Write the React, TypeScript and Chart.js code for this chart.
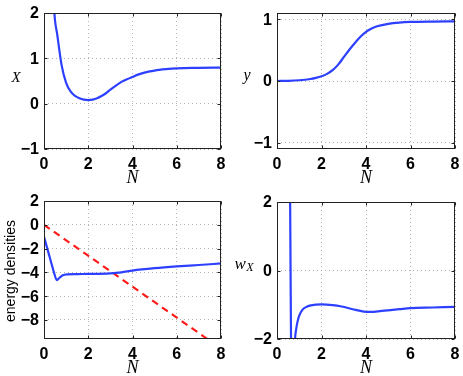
import React, { useEffect, useRef } from 'react';
import { Chart, registerables } from 'chart.js';

Chart.register(...registerables);

// ---------- data ----------
const N_TICKS = [0, 2, 4, 6, 8];

// Panel 1: X(N)
const N_X = [0.35, 0.47, 0.6, 0.8, 1.0, 1.2, 1.4, 1.6, 1.8, 2.0, 2.2, 2.4, 2.6, 2.8, 3.0, 3.25, 3.5, 3.75, 4.0, 4.25, 4.5, 5.0, 5.5, 6.0, 7.0, 8.0];
const X_VAL = [3.4, 2.0, 1.52, 0.84, 0.46, 0.27, 0.17, 0.12, 0.09, 0.08, 0.09, 0.12, 0.17, 0.23, 0.31, 0.4, 0.48, 0.54, 0.59, 0.64, 0.68, 0.73, 0.76, 0.78, 0.79, 0.795];
const X_TICKS = [-1, 0, 1, 2];

// Panel 2: y(N)
const N_Y = [0, 0.5, 1, 1.5, 1.75, 2, 2.25, 2.5, 2.75, 3, 3.25, 3.5, 3.75, 4, 4.25, 4.5, 5, 5.5, 6, 7, 8];
const Y_VAL = [0, 0.003, 0.012, 0.032, 0.05, 0.076, 0.115, 0.175, 0.265, 0.385, 0.505, 0.615, 0.715, 0.795, 0.848, 0.885, 0.925, 0.945, 0.955, 0.962, 0.965];
const Y_TICKS = [-1, 0, 1];

// Panel 3: energy densities
const N_E = [0, 0.15, 0.3, 0.45, 0.58, 0.7, 0.85, 1.04, 1.5, 2, 3, 3.5, 4, 5, 6, 7, 8];
const E_VAL = [-1.0, -2.0, -3.0, -4.0, -4.65, -4.45, -4.25, -4.17, -4.14, -4.13, -4.08, -4.0, -3.85, -3.65, -3.5, -3.38, -3.25];
const N_R = [0, 8];
const R_VAL = [0, -10.4];
const E_TICKS = [-8, -6, -4, -2, 0, 2];

// Panel 4: w_X(N)
const N_W = [0.5, 0.55, 0.59, 0.61, 0.63, 0.68, 0.74, 0.81, 0.86, 0.92, 1.0, 1.14, 1.3, 1.52, 2.0, 2.5, 2.9, 3.4, 3.9, 4.2, 4.7, 5.5, 6.0, 7.0, 8.0];
const W_VAL = [8, 4, 2, 0, -2, -3.5, -3.0, -2.0, -1.72, -1.5, -1.32, -1.15, -1.07, -1.02, -0.99, -1.01, -1.05, -1.13, -1.2, -1.21, -1.18, -1.13, -1.1, -1.08, -1.06];
const W_TICKS = [-2, 0, 2];

// ---------- styling ----------
const BLUE = '#2d40ff';
const RED = '#ff1a1a';
const TICK_CSS = 'bold 16px "Liberation Sans", Arial, sans-serif';
const SERIF = '"Liberation Serif", "Times New Roman", serif';

const pts = (xs: number[], ys: number[]) => xs.map((x, i) => ({ x, y: ys[i] }));
const fmt = (v: any) => String(v).replace('-', '\u2212');

type Spec = {
  left: number; top: number; width: number; height: number;
  padding: { left: number; right: number; top: number; bottom: number };
  yAxisWidth: number; xAxisHeight: number;
  yMin: number; yMax: number; yTicks: number[];
  datasets: any[];
  yLabel: (ctx: CanvasRenderingContext2D) => void;
};

const frameFor = (spec: Spec) => ({
  id: 'frame',
  afterDatasetsDraw(chart: any) {
    const ctx: CanvasRenderingContext2D = chart.ctx;
    const a = chart.chartArea;
    ctx.save();
    ctx.strokeStyle = '#222';
    ctx.lineWidth = 1;
    const l = Math.round(a.left) + 0.5, r = Math.round(a.right) - 0.5;
    const t = Math.round(a.top) + 0.5, b = Math.round(a.bottom) - 0.5;
    ctx.strokeRect(l, t, r - l, b - t);
    // inner tick marks
    const xs = chart.scales.x, ys = chart.scales.y;
    ctx.beginPath();
    N_TICKS.forEach((v) => {
      const px = Math.round(xs.getPixelForValue(v)) + 0.5;
      ctx.moveTo(px, b); ctx.lineTo(px, b - 3);
      ctx.moveTo(px, t); ctx.lineTo(px, t + 3);
    });
    spec.yTicks.forEach((v) => {
      const py = Math.round(ys.getPixelForValue(v)) + 0.5;
      ctx.moveTo(l, py); ctx.lineTo(l + 3, py);
      ctx.moveTo(r, py); ctx.lineTo(r - 3, py);
    });
    ctx.stroke();
    // tick labels
    ctx.fillStyle = '#000';
    ctx.font = TICK_CSS;
    ctx.textAlign = 'center';
    ctx.textBaseline = 'alphabetic';
    N_TICKS.forEach((v) => {
      ctx.fillText(fmt(v), xs.getPixelForValue(v), a.bottom + 20);
    });
    ctx.textAlign = 'right';
    ctx.textBaseline = 'middle';
    spec.yTicks.forEach((v) => {
      ctx.fillText(fmt(v), a.left - 5, ys.getPixelForValue(v) + 1);
    });
    // x title
    ctx.font = `italic 18px ${SERIF}`;
    ctx.textAlign = 'center';
    ctx.textBaseline = 'alphabetic';
    ctx.fillText('N', (a.left + a.right) / 2, a.bottom + 34);
    spec.yLabel(ctx);
    ctx.restore();
  },
});

function Panel({ spec }: { spec: Spec }) {
  const ref = useRef<HTMLCanvasElement>(null);
  useEffect(() => {
    const canvas = ref.current!;
    const chart = new Chart(canvas, {
      type: 'line',
      data: { datasets: spec.datasets },
      options: {
        animation: false,
        responsive: false,
        devicePixelRatio: 1,
        layout: { padding: spec.padding },
        plugins: { legend: { display: false }, tooltip: { enabled: false } },
        elements: { point: { radius: 0 } },
        scales: {
          x: {
            type: 'linear',
            min: 0,
            max: 8,
            afterBuildTicks: (axis: any) => { axis.ticks = N_TICKS.map((v) => ({ value: v })); },
            afterFit: (axis: any) => { axis.height = spec.xAxisHeight; },
            ticks: { display: false },
            grid: { color: '#b4b4b4', lineWidth: 1, drawTicks: false, borderDash: [1, 3] } as any,
            border: { display: false, dash: [1, 3] },
          },
          y: {
            type: 'linear',
            min: spec.yMin,
            max: spec.yMax,
            afterBuildTicks: (axis: any) => { axis.ticks = spec.yTicks.map((v) => ({ value: v })); },
            afterFit: (axis: any) => { axis.width = spec.yAxisWidth; },
            ticks: { display: false },
            grid: { color: '#b4b4b4', lineWidth: 1, drawTicks: false, borderDash: [1, 3] } as any,
            border: { display: false, dash: [1, 3] },
          },
        },
      },
      plugins: [frameFor(spec)],
    } as any);
    return () => chart.destroy();
  }, [spec]);
  return (
    <div style={{ position: 'absolute', left: spec.left, top: spec.top, width: spec.width, height: spec.height }}>
      <canvas ref={ref} width={spec.width} height={spec.height} style={{ display: 'block' }} />
    </div>
  );
}

const lineDs = (data: any[], color: string, dash?: number[]) => ({
  data,
  borderColor: color,
  backgroundColor: color,
  borderWidth: 2.2,
  borderDash: dash || [],
  pointRadius: 0,
  fill: false,
  cubicInterpolationMode: 'monotone',
});

const SPECS: Spec[] = [
  {
    left: 0, top: 0, width: 231, height: 188,
    padding: { left: 0, right: 10, top: 13, bottom: 0 },
    yAxisWidth: 44, xAxisHeight: 39,
    yMin: -1, yMax: 2, yTicks: X_TICKS,
    datasets: [lineDs(pts(N_X, X_VAL), BLUE)],
    yLabel: (ctx) => {
      ctx.font = `italic 15px ${SERIF}`;
      ctx.textAlign = 'center';
      ctx.fillText('X', 16, 81.5);
    },
  },
  {
    left: 231, top: 0, width: 232, height: 188,
    padding: { left: 0, right: 8, top: 13, bottom: 0 },
    yAxisWidth: 46, xAxisHeight: 39,
    yMin: -1.1, yMax: 1.1, yTicks: Y_TICKS,
    datasets: [lineDs(pts(N_Y, Y_VAL), BLUE)],
    yLabel: (ctx) => {
      ctx.font = `italic 16px ${SERIF}`;
      ctx.textAlign = 'center';
      ctx.fillText('y', 16, 79.5);
    },
  },
  {
    left: 0, top: 188, width: 231, height: 188,
    padding: { left: 0, right: 10, top: 13, bottom: 0 },
    yAxisWidth: 44, xAxisHeight: 37,
    yMin: -9.6, yMax: 2, yTicks: E_TICKS,
    datasets: [lineDs(pts(N_E, E_VAL), BLUE), lineDs(pts(N_R, R_VAL), RED, [7, 5])],
    yLabel: (ctx) => {
      ctx.save();
      ctx.translate(11, 83);
      ctx.rotate(-Math.PI / 2);
      ctx.font = '14px "Liberation Sans", Arial, sans-serif';
      ctx.textAlign = 'center';
      ctx.textBaseline = 'middle';
      ctx.fillText('energy densities', 0, 0);
      ctx.restore();
    },
  },
  {
    left: 231, top: 188, width: 232, height: 188,
    padding: { left: 0, right: 8, top: 14, bottom: 0 },
    yAxisWidth: 46, xAxisHeight: 37,
    yMin: -2, yMax: 2, yTicks: W_TICKS,
    datasets: [lineDs(pts(N_W, W_VAL), BLUE)],
    yLabel: (ctx) => {
      ctx.textAlign = 'left';
      ctx.font = `italic 17px ${SERIF}`;
      ctx.fillText('w', 3.5, 80.5);
      const w = ctx.measureText('w').width;
      ctx.font = `italic 12px ${SERIF}`;
      ctx.fillText('X', 3.5 + w + 0.5, 82.5);
    },
  },
];

export default function App() {
  return (
    <div style={{ position: 'fixed', left: 0, top: 0, width: 463, height: 376, background: '#fff' }}>
      {SPECS.map((s, i) => (
        <Panel key={i} spec={s} />
      ))}
    </div>
  );
}
